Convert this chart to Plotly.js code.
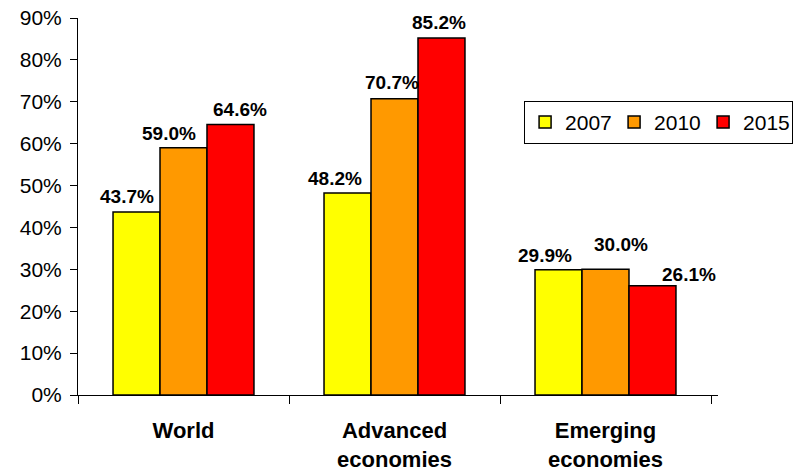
<!DOCTYPE html>
<html>
<head>
<meta charset="utf-8">
<script src="https://cdn.plot.ly/plotly-3.0.1.min.js"></script>
<style>
  html, body { margin: 0; padding: 0; background: #fff; }
  #chart { width: 796px; height: 472px; }
</style>
</head>
<body>
<div id="chart"></div>
<script>
// Region groups on the category axis
const categories = ['World', 'Advanced<br>economies', 'Emerging<br>economies'];

// Series: one per year (percent)
const years = ['2007', '2010', '2015'];
const values2007 = [43.7, 48.2, 29.9];
const values2010 = [59.0, 70.7, 30.0];
const values2015 = [64.6, 85.2, 26.1];
const seriesValues = [values2007, values2010, values2015];

// Y axis ticks
const yTicks = [0, 10, 20, 30, 40, 50, 60, 70, 80, 90];
const yTickText = yTicks.map(v => v + '%');

// Styling
const colors = ['#FFFF00', '#FF9900', '#FF0000'];
const FONT = 'Liberation Sans, Arial, sans-serif';
const W = 796, H = 472;
const margin = { l: 78, r: 78, t: 18, b: 77, autoexpand: false };
const bargap = 0.332;

// Nudges (px) of each value label relative to its bar centre / bar top
const labelDx = [[-9, -12, -12.5], [-14.5, -3, 15.5], [9, -3, 36]];
const labelDy = [[15, 15, 14], [14, 16, 25], [15, 16, 11]];

const traces = years.map((yr, i) => ({
  type: 'bar',
  name: yr,
  x: categories,
  y: seriesValues[i],
  marker: { color: colors[i], line: { color: '#000', width: 1.5 } },
  hoverinfo: 'skip'
}));

// Bar width in pixels, so labels can sit over their own bar
const plotW = W - margin.l - margin.r;
const barPx = plotW / categories.length * (1 - bargap) / years.length;

const annotations = [];
years.forEach((yr, i) => {
  categories.forEach((c, j) => {
    annotations.push({
      x: c, y: seriesValues[i][j], xref: 'x', yref: 'y',
      text: seriesValues[i][j].toFixed(1) + '%',
      showarrow: false,
      xanchor: 'center', yanchor: 'middle',
      xshift: (i - 1) * barPx + labelDx[i][j],
      yshift: labelDy[i][j],
      font: { family: FONT, size: 19, color: '#000', weight: 'bold' }
    });
  });
});

const layout = {
  width: W, height: H,
  margin: margin,
  paper_bgcolor: '#fff', plot_bgcolor: '#fff',
  barmode: 'group',
  bargap: bargap,
  bargroupgap: 0,
  showlegend: true,
  legend: {
    orientation: 'h',
    x: 0.697, y: 0.78, xanchor: 'left', yanchor: 'top',
    bordercolor: '#000', borderwidth: 1, bgcolor: '#fff',
    font: { family: FONT, size: 21, color: '#000' },
    traceorder: 'normal',
    entrywidth: 44
  },
  xaxis: {
    type: 'category',
    automargin: false,
    tickangle: 0,
    showline: true, linecolor: '#000', linewidth: 1,
    ticks: 'outside', tickson: 'boundaries', ticklen: 8, tickcolor: '#000',
    ticklabelstandoff: 16,
    showgrid: false, zeroline: false,
    tickfont: { family: FONT, size: 22, color: '#000', weight: 'bold' }
  },
  yaxis: {
    automargin: false,
    range: [0, 90],
    tickvals: yTicks, ticktext: yTickText,
    showline: true, linecolor: '#000', linewidth: 1,
    ticks: 'outside', ticklen: 7, tickcolor: '#000',
    ticklabelstandoff: 4,
    showgrid: false, zeroline: false,
    tickfont: { family: FONT, size: 21, color: '#000' }
  },
  annotations: annotations
};

Plotly.newPlot('chart', traces, layout, { displayModeBar: false, staticPlot: true });
</script>
</body>
</html>
